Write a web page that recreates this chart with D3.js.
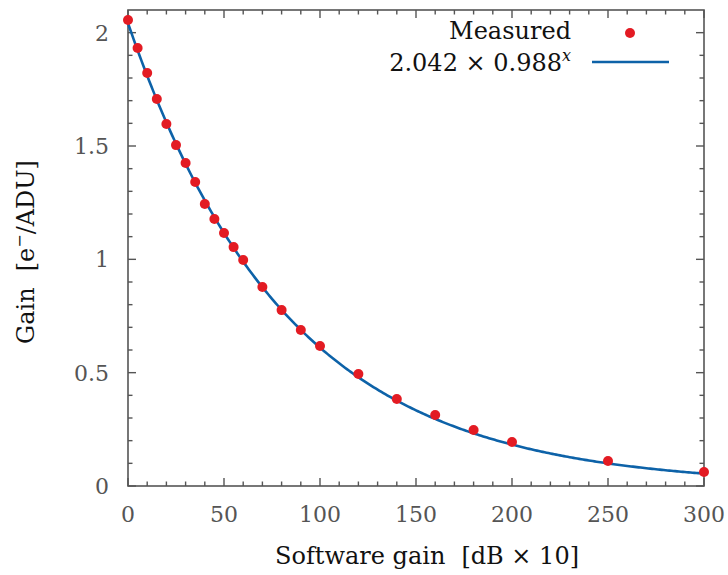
<!DOCTYPE html>
<html><head><meta charset="utf-8">
<script src="https://cdn.jsdelivr.net/npm/d3@7"></script>
<style>body{margin:0;background:#fff}svg{display:block}</style>
</head><body>
<svg id="c" width="728" height="575"></svg>
<script>
const gainX = [0,5,10,15,20,25,30,35,40,45,50,55,60,70,80,90,100,120,140,160,180,200,250,300];
const gainY = [2.056,1.932,1.822,1.707,1.597,1.504,1.425,1.341,1.244,1.178,1.116,1.054,0.997,0.878,0.776,0.688,0.618,0.494,0.384,0.313,0.247,0.194,0.110,0.062];
const fitA = 2.042, fitB = 0.988;
const xTicks = [0,50,100,150,200,250,300];
const yTicks = [0,0.5,1,1.5,2];
const yTickLabels = ["0","0.5","1","1.5","2"];

const svg = d3.select("#c");
const L=128,R=704,T=10,B=486;
const x = d3.scaleLinear().domain([0,300]).range([L,R]);
const y = d3.scaleLinear().domain([0,2.1]).range([B,T]);
const font = "'DejaVu Serif', serif";
const frameCol = "#555";

svg.append("rect").attr("x",L).attr("y",T).attr("width",R-L).attr("height",B-T)
  .attr("fill","none").attr("stroke",frameCol).attr("stroke-width",1.6);

const xMinor = d3.range(0,301,10);
const yMinor = d3.range(0,21).map(d=>d/10);
const tg = svg.append("g").attr("stroke",frameCol).attr("stroke-width",1.4);
xMinor.forEach(v=>{
  const len = v%50===0?8:4.5;
  tg.append("line").attr("x1",x(v)).attr("x2",x(v)).attr("y1",B).attr("y2",B-len);
  tg.append("line").attr("x1",x(v)).attr("x2",x(v)).attr("y1",T).attr("y2",T+len);
});
yMinor.forEach(v=>{
  const len = Math.round(v*10)%5===0?8:4.5;
  tg.append("line").attr("y1",y(v)).attr("y2",y(v)).attr("x1",L).attr("x2",L+len);
  tg.append("line").attr("y1",y(v)).attr("y2",y(v)).attr("x1",R).attr("x2",R-len);
});

svg.append("g").selectAll("text").data(xTicks).join("text")
  .attr("x",d=>x(d)).attr("y",522).attr("text-anchor","middle")
  .attr("font-family",font).attr("font-size",22).attr("fill","#555").text(d=>d);
svg.append("g").selectAll("text").data(yTicks).join("text")
  .attr("x",109).attr("y",d=>y(d)+8).attr("text-anchor","end")
  .attr("font-family",font).attr("font-size",22).attr("fill","#555").text((d,i)=>yTickLabels[i]);

const xt = svg.append("text").attr("x",427).attr("y",564).attr("text-anchor","middle")
  .attr("font-family",font).attr("font-size",24).attr("fill","#111");
xt.append("tspan").text("Software gain");
xt.append("tspan").attr("dx",16).text("[dB × 10]");
const yt = svg.append("text").attr("transform","translate(34,252) rotate(-90)").attr("text-anchor","middle")
  .attr("font-family",font).attr("font-size",24).attr("fill","#111");
yt.append("tspan").text("Gain");
yt.append("tspan").attr("dx",16).text("[e");
yt.append("tspan").attr("dy",-9).attr("font-size",16).text("−");
yt.append("tspan").attr("dy",9).text("/ADU]");

const xs = d3.range(0,300.01,1);
const line = d3.line().x(d=>x(d)).y(d=>y(fitA*Math.pow(fitB,d)));
svg.append("path").datum(xs).attr("d",line).attr("fill","none")
  .attr("stroke","#0d62a8").attr("stroke-width",2.6);

svg.append("g").selectAll("circle").data(gainX).join("circle")
  .attr("cx",d=>x(d)).attr("cy",(d,i)=>y(gainY[i])).attr("r",5).attr("fill","#e31b23");

svg.append("text").attr("x",571).attr("y",39).attr("text-anchor","end")
  .attr("font-family",font).attr("font-size",24).attr("fill","#111").text("Measured");
svg.append("circle").attr("cx",630).attr("cy",33).attr("r",5).attr("fill","#e31b23");
const lt = svg.append("text").attr("x",571).attr("y",71).attr("text-anchor","end")
  .attr("font-family",font).attr("font-size",24).attr("fill","#111");
lt.append("tspan").text("2.042 × 0.988");
lt.append("tspan").attr("dy",-10).attr("font-size",16).attr("font-style","italic").text("x");
svg.append("line").attr("x1",592).attr("x2",669).attr("y1",62).attr("y2",62)
  .attr("stroke","#0d62a8").attr("stroke-width",2.6);
</script>
</body></html>
